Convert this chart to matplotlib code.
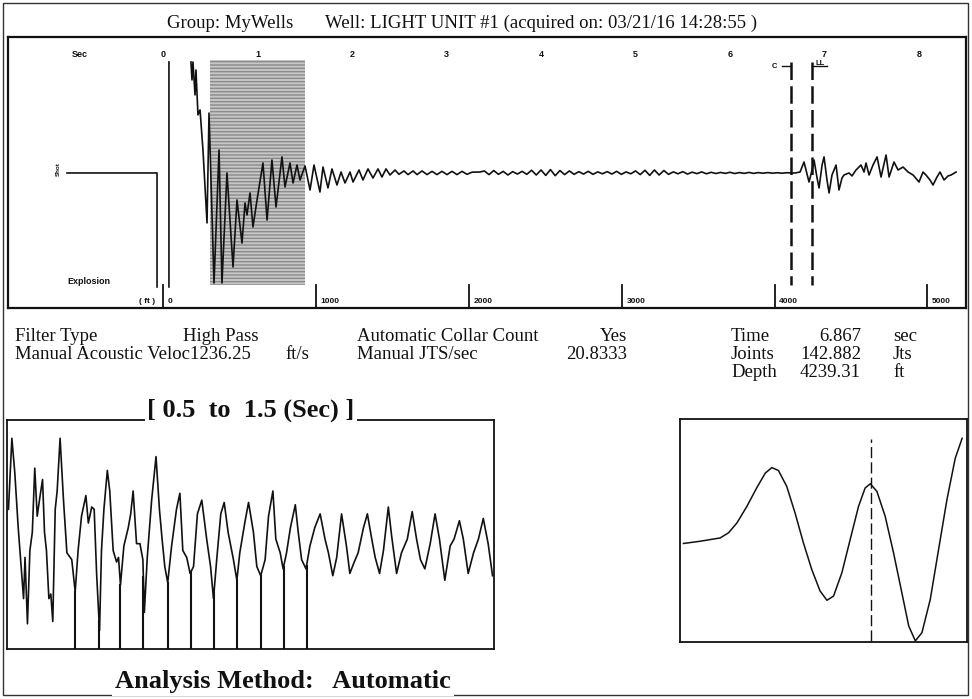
import numpy as np
import matplotlib
matplotlib.use('Agg')
import matplotlib.pyplot as plt
from matplotlib.patches import Rectangle

W, H = 972, 699

# ---------------- data ----------------
header_group = "Group: MyWells"
header_well = "Well: LIGHT UNIT #1 (acquired on: 03/21/16 14:28:55 )"
velocity = 1236.25          # ft/s
jts_per_sec = "20.8333"
time_sec = "6.867"
joints = "142.882"
depth_ft = "4239.31"

sec_ticks = [0, 1, 2, 3, 4, 5, 6, 7, 8]
depth_ticks = [0, 1000, 2000, 3000, 4000, 5000]
window = [0.5, 1.5]
marker_times = [6.645, 6.867]
marker_labels = ['C', 'LL']

# pre-shot baseline and explosion kick
pre_t = [-1.016, -0.063, -0.063]
pre_amp = [0.0, 0.0, -0.844]
kick_t = [0.063, 0.063]
kick_amp = [-0.844, 0.822]

# main acoustic trace, 0.3 .. 3.35 s (extrema)
early_t = [0.296, 0.307, 0.317, 0.339, 0.349, 0.370, 0.392, 0.423, 0.466, 0.487,
           0.540, 0.593, 0.624, 0.677, 0.741, 0.783, 0.836, 0.868, 0.889, 0.921,
           0.952, 0.995, 1.058, 1.101, 1.153, 1.196, 1.259, 1.291, 1.344, 1.376,
           1.418, 1.450, 1.503, 1.556, 1.598, 1.661, 1.693, 1.746, 1.788, 1.841,
           1.884, 1.926, 1.979, 2.011, 2.074, 2.116, 2.169, 2.222, 2.275, 2.317,
           2.360, 2.402, 2.455, 2.497, 2.550, 2.593, 2.646, 2.688, 2.741, 2.794,
           2.847, 2.899, 2.952, 3.005, 3.058, 3.111, 3.164, 3.217, 3.270, 3.354]
early_amp = [0.822, 0.689, 0.822, 0.578, 0.763, 0.430, 0.467, 0.170, -0.370, 0.444,
             -0.815, 0.170, -0.815, 0.000, -0.696, -0.200, -0.519, -0.222, -0.311, -0.148,
             -0.400, -0.200, 0.074, -0.348, 0.096, -0.252, 0.119, -0.104, 0.074, -0.074,
             0.059, -0.052, 0.052, -0.126, 0.059, -0.141, 0.044, -0.111, 0.030, -0.089,
             0.007, -0.074, 0.007, -0.067, 0.022, -0.052, 0.030, -0.037, 0.030, -0.030,
             0.030, -0.015, 0.022, -0.010, 0.015, -0.012, 0.015, -0.012, 0.015, -0.012,
             0.012, -0.012, 0.012, -0.012, 0.012, -0.012, 0.012, -0.010, 0.006, 0.007]

# quiet part, sampled every 0.05 s from 3.40 to 6.65 s
quiet_start, quiet_step = 3.40, 0.05
quiet_amp = [0.015, -0.012, 0.018, -0.010, 0.012, -0.015, 0.010, -0.008, 0.012, -0.010,
             0.020, -0.015, 0.022, -0.018, 0.025, -0.020, 0.018, -0.012, 0.015, -0.010,
             0.010, -0.008, 0.012, -0.010, 0.008, -0.006, 0.010, -0.008, 0.012, -0.010,
             0.008, -0.006, 0.015, -0.012, 0.020, -0.018, 0.022, -0.015, 0.018, -0.010,
             0.008, -0.006, 0.010, -0.008, 0.006, -0.005, 0.008, -0.006, 0.005, -0.004,
             0.004, -0.003, 0.005, -0.004, 0.003, -0.003, 0.004, -0.003, 0.003, -0.002,
             0.003, -0.002, 0.002, -0.002, 0.002, 0.000]

# liquid-level echo burst
burst_t = [6.688, 6.741, 6.783, 6.836, 6.868, 6.889, 6.921, 6.942, 6.974, 6.995,
           7.026, 7.048, 7.079, 7.122, 7.153, 7.185, 7.206, 7.259, 7.291, 7.333,
           7.386, 7.418, 7.439, 7.471, 7.513, 7.556, 7.598, 7.651, 7.683, 7.735,
           7.778, 7.831, 7.884, 7.937, 8.000, 8.042, 8.074, 8.116, 8.148, 8.190,
           8.222, 8.265, 8.307, 8.339, 8.392]
burst_amp = [0.000, 0.007, 0.081, -0.067, 0.022, 0.096, -0.037, -0.111, 0.059, 0.119,
             -0.052, -0.148, -0.015, 0.059, -0.126, -0.037, -0.015, 0.000, -0.022, 0.022,
             0.059, 0.007, 0.074, -0.015, 0.059, 0.119, -0.030, 0.133, -0.030, 0.081,
             0.022, 0.044, 0.007, -0.015, -0.067, 0.007, -0.015, -0.052, -0.089, -0.030,
             0.007, -0.052, -0.022, -0.015, 0.007]

# lower-left: 0.5 .. 1.5 s window trace (0..100 scale)
ll_t = [0.503, 0.510, 0.516, 0.523, 0.530, 0.534, 0.537, 0.542, 0.547, 0.552,
        0.557, 0.562, 0.568, 0.573, 0.577, 0.581, 0.586, 0.590, 0.594, 0.599,
        0.603, 0.609, 0.616, 0.623, 0.633, 0.640, 0.646, 0.653, 0.662, 0.667,
        0.674, 0.679, 0.684, 0.690, 0.694, 0.699, 0.706, 0.711, 0.718, 0.725,
        0.729, 0.733, 0.740, 0.749, 0.754, 0.759, 0.766, 0.773, 0.779, 0.782,
        0.788, 0.797, 0.806, 0.813, 0.818, 0.824, 0.830, 0.838, 0.848, 0.855,
        0.861, 0.869, 0.876, 0.883, 0.891, 0.900, 0.910, 0.918, 0.924, 0.931,
        0.939, 0.946, 0.954, 0.965, 0.972, 0.978, 0.989, 0.996, 1.006, 1.013,
        1.021, 1.030, 1.037, 1.046, 1.052, 1.061, 1.067, 1.074, 1.082, 1.092,
        1.098, 1.105, 1.114, 1.122, 1.132, 1.143, 1.153, 1.160, 1.169, 1.177,
        1.187, 1.197, 1.204, 1.213, 1.221, 1.232, 1.240, 1.249, 1.256, 1.265,
        1.273, 1.283, 1.290, 1.300, 1.310, 1.322, 1.332, 1.341, 1.349, 1.358,
        1.369, 1.379, 1.388, 1.399, 1.410, 1.418, 1.429, 1.437, 1.447, 1.458,
        1.468, 1.478, 1.488, 1.497]
ll_v = [61, 92, 77, 53, 33, 22, 40, 11, 43, 51,
        79, 58, 67, 74, 51, 43, 22, 24, 12, 61,
        69, 92, 65, 42, 39, 25, 43, 58, 67, 55,
        62, 61, 33, 8, 43, 61, 78, 69, 43, 38,
        40, 28, 45, 53, 59, 69, 46, 46, 39, 16,
        40, 65, 84, 61, 49, 36, 29, 45, 61, 68,
        43, 40, 33, 36, 59, 65, 48, 36, 22, 40,
        59, 64, 51, 39, 30, 42, 56, 64, 51, 36,
        32, 39, 58, 69, 48, 42, 35, 42, 53, 63,
        51, 39, 35, 45, 53, 59, 48, 42, 32, 40,
        59, 45, 33, 38, 42, 53, 59, 48, 40, 33,
        43, 62, 49, 33, 42, 48, 60, 48, 39, 35,
        46, 59, 48, 30, 45, 48, 56, 48, 33, 42,
        48, 57, 46, 32]
ll_marks = [0.640, 0.689, 0.733, 0.780, 0.830, 0.877, 0.925, 0.972, 1.021, 1.068, 1.115]

# lower-right: zoomed collar response (0..100 scale)
lr_u = [1.2, 7.0, 14.0, 16.9, 19.8, 23.3, 26.7, 29.7, 32.0, 34.3, 37.2, 40.1, 43.0, 45.9,
        48.8, 51.2, 53.5, 56.4, 59.3, 62.2, 64.5, 66.3, 68.6, 71.5, 74.4, 77.3, 79.7,
        82.0, 84.3, 87.2, 90.1, 93.0, 95.9, 98.3]
lr_v = [43.9, 44.9, 46.4, 48.7, 53.1, 60.6, 68.9, 75.6, 78.1, 76.8, 69.6, 57.6, 44.2, 32.2,
        22.5, 18.3, 20.2, 30.7, 45.7, 60.6, 68.9, 70.8, 67.4, 56.1, 39.7, 21.7, 6.7,
        0.0, 3.7, 18.7, 41.2, 63.6, 82.3, 91.3]
lr_mark = 66.5

# ---------------- drawing ----------------
serif = ['Liberation Serif', 'DejaVu Serif']
sans = ['Liberation Sans', 'DejaVu Sans']
INK = '#111111'

fig = plt.figure(figsize=(W / 100, H / 100), dpi=100)
fig.patch.set_facecolor('white')


def rect(x0, y0, x1, y1):
    return [x0 / W, 1 - y1 / H, (x1 - x0) / W, (y1 - y0) / H]


def ftext(x, y, s, **kw):
    return fig.text(x / W, 1 - y / H, s, **kw)


# outer frame
fig.add_artist(Rectangle((3 / W, 1 - 695 / H), 965 / W, 692 / H, transform=fig.transFigure,
                         fill=False, lw=1.0, ec='#333333', zorder=0))

# header
ftext(167, 28, header_group, fontsize=13.5, family=serif, va='baseline', ha='left', color=INK)
ftext(325, 28, header_well, fontsize=13.5, family=serif, va='baseline', ha='left', color=INK)

# ---- main panel ----
ax = fig.add_axes(rect(8, 37, 966, 308))
ax.set_xlim(-1.640, 8.497)
ax.set_ylim(-1.0, 1.007)
ax.set_xticks([])
ax.set_yticks([])
for s in ax.spines.values():
    s.set_linewidth(1.6)
    s.set_color(INK)

ax.add_patch(Rectangle((window[0], -0.83), window[1] - window[0], 1.667,
                       facecolor='#c6c6c6', edgecolor='#8a8a8a', hatch='-----', lw=0, zorder=1))

quiet_t = quiet_start + quiet_step * np.arange(len(quiet_amp))
trace_t = np.concatenate([pre_t, [np.nan], kick_t, [np.nan], early_t, quiet_t, burst_t])
trace_a = np.concatenate([pre_amp, [np.nan], kick_amp, [np.nan], early_amp, quiet_amp, burst_amp])
ax.plot(trace_t, trace_a, color=INK, lw=1.2, zorder=3)

for tm in marker_times:
    ax.plot([tm, tm], [0.82, -0.83], color=INK, lw=1.8, ls=(0, (7, 2.5)), zorder=4)
ax.text(marker_times[0] - 0.17, 0.79, marker_labels[0], fontsize=5.5, fontweight='bold',
        family=sans, ha='center', va='center', color=INK)
ax.plot([marker_times[0] - 0.1, marker_times[0]], [0.79, 0.79], color=INK, lw=1.0)
ax.plot([marker_times[1], marker_times[1] + 0.16], [0.79, 0.79], color=INK, lw=1.0)
ax.text(marker_times[1] + 0.04, 0.81, marker_labels[1], fontsize=5.5, fontweight='bold',
        family=sans, ha='left', va='center', color=INK)

ax.text(-0.878, 0.874, 'Sec', fontsize=6.5, fontweight='bold', family=sans, ha='center',
        va='center', color=INK)
for s in sec_ticks:
    ax.text(s, 0.874, str(s), fontsize=6.5, fontweight='bold', family=sans, ha='center',
            va='center', color=INK)

for d in depth_ticks:
    td = 2.0 * d / velocity
    ax.plot([td, td], [-1.0, -0.83], color=INK, lw=1.3)
    ax.text(td + 0.05, -0.955, str(d), fontsize=6, fontweight='bold', family=sans,
            ha='left', va='center', color=INK)
ax.text(-0.08, -0.955, '( ft )', fontsize=6, fontweight='bold', family=sans,
        ha='right', va='center', color=INK)
ax.text(-1.016, -0.807, 'Explosion', fontsize=6.5, fontweight='bold', family=sans,
        ha='left', va='center', color=INK)
ax.text(-1.111, 0.03, 'Shot', fontsize=4.5, fontweight='bold', family=sans, rotation=90,
        ha='center', va='center', color=INK)

# ---- info rows ----
rows = [341, 359, 377]
fs_info = 13.5
ftext(15, rows[0], 'Filter Type', fontsize=fs_info, family=serif, va='baseline', color=INK)
ftext(183, rows[0], 'High Pass', fontsize=fs_info, family=serif, va='baseline', color=INK)
ftext(357, rows[0], 'Automatic Collar Count', fontsize=fs_info, family=serif, va='baseline', color=INK)
ftext(627, rows[0], 'Yes', fontsize=fs_info, family=serif, va='baseline', ha='right', color=INK)
ftext(15, rows[1], 'Manual Acoustic Veloc' + f'{velocity:.2f}', fontsize=fs_info, family=serif,
      va='baseline', color=INK)
ftext(285, rows[1], 'ft/s', fontsize=fs_info, family=serif, va='baseline', color=INK)
ftext(357, rows[1], 'Manual JTS/sec', fontsize=fs_info, family=serif, va='baseline', color=INK)
ftext(627, rows[1], jts_per_sec, fontsize=fs_info, family=serif, va='baseline', ha='right', color=INK)
for i, (lab, val, unit) in enumerate([('Time', time_sec, 'sec'), ('Joints', joints, 'Jts'),
                                       ('Depth', depth_ft, 'ft')]):
    ftext(731, rows[i], lab, fontsize=fs_info, family=serif, va='baseline', color=INK)
    ftext(861, rows[i], val, fontsize=fs_info, family=serif, va='baseline', ha='right', color=INK)
    ftext(893, rows[i], unit, fontsize=fs_info, family=serif, va='baseline', color=INK)

# ---- lower-left panel ----
axl = fig.add_axes(rect(7, 420, 494, 649))
axl.set_xlim(window[0], window[1])
axl.set_ylim(0, 100)
axl.set_xticks([])
axl.set_yticks([])
for s in axl.spines.values():
    s.set_linewidth(1.3)
    s.set_color(INK)
axl.plot(ll_t, ll_v, color=INK, lw=1.2)
for m in ll_marks:
    axl.plot([m, m], [0, np.interp(m, ll_t, ll_v)], color=INK, lw=1.5)

ftext(251, 417, f'[ {window[0]}  to  {window[1]} (Sec) ]', fontsize=19, fontweight='bold',
      family=serif, ha='center', va='baseline', color=INK,
      bbox=dict(facecolor='white', edgecolor='none', pad=1.5))

# ---- lower-right panel ----
axr = fig.add_axes(rect(680, 419, 967, 642))
axr.set_xlim(0, 100)
axr.set_ylim(-0.5, 100)
axr.set_xticks([])
axr.set_yticks([])
for s in axr.spines.values():
    s.set_linewidth(1.3)
    s.set_color(INK)
axr.plot(lr_u, lr_v, color=INK, lw=1.1)
axr.plot([lr_mark, lr_mark], [0, 91], color=INK, lw=1.0, ls=(0, (8, 3)))

ftext(283, 688, 'Analysis Method:   Automatic', fontsize=19, fontweight='bold', family=serif,
      ha='center', va='baseline', color=INK,
      bbox=dict(facecolor='white', edgecolor='none', pad=2))

fig.savefig('out.png', dpi=100, facecolor='white')
